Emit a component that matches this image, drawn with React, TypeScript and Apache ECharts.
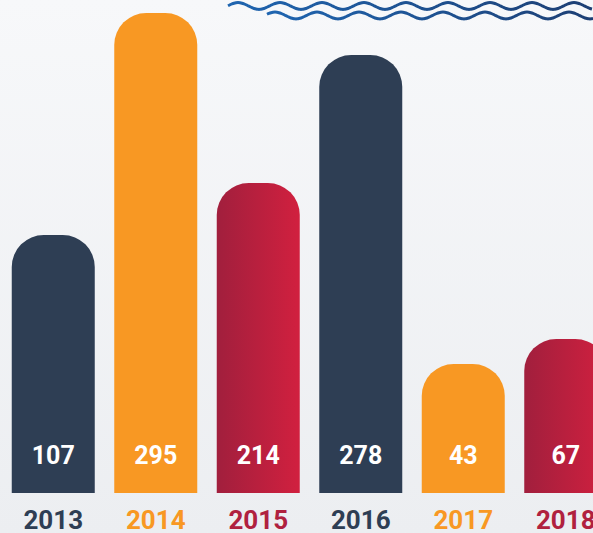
import React, { useEffect, useRef } from "react";
import * as echarts from "echarts";

const years = ["2013", "2014", "2015", "2016", "2017", "2018"];
// displayed bar heights (arbitrary units)
const barHeights = [258, 480, 310, 438, 129, 154];
// value labels shown inside bars
const valueLabels = ["107", "295", "214", "278", "43", "67"];
const kinds = ["navy", "orange", "red", "navy", "orange", "red"];

const NAVY = "#2e3e54";
const ORANGE = "#f89823";
const RED_TEXT = "#b0213f";

function fillFor(kind: string): any {
  if (kind === "navy") return NAVY;
  if (kind === "orange") return ORANGE;
  return new echarts.graphic.LinearGradient(0, 0, 1, 0, [
    { offset: 0, color: "#a11f3d" },
    { offset: 1, color: "#d1203f" },
  ]);
}
function textFor(kind: string): string {
  if (kind === "navy") return NAVY;
  if (kind === "orange") return ORANGE;
  return RED_TEXT;
}

function wave(x0: number, x1: number, cy: number, amp: number, period: number, phase: number): number[][] {
  const pts: number[][] = [];
  for (let x = x0; x <= x1; x += 2) {
    pts.push([x, cy - amp * Math.cos(((x - phase) / period) * 2 * Math.PI)]);
  }
  return pts;
}

export default function App() {
  const ref = useRef<HTMLDivElement>(null);
  useEffect(() => {
    document.body.style.margin = "0";
    const chart = echarts.init(ref.current!, null, { renderer: "svg" });
    const waveColor = new echarts.graphic.LinearGradient(0, 0, 1, 0, [
      { offset: 0, color: "#1f65b0" },
      { offset: 1, color: "#1d3f74" },
    ]);
    chart.setOption({
      animation: false,
      backgroundColor: new echarts.graphic.LinearGradient(0, 0, 0, 1, [
        { offset: 0, color: "#f7f8fa" },
        { offset: 1, color: "#eceef1" },
      ]),
      grid: {
        left: 2,
        top: 0,
        width: 615,
        bottom: 40,
        containLabel: false,
        outerBoundsMode: "none",
      },
      xAxis: {
        type: "category",
        data: years,
        axisLine: { show: false },
        axisTick: { show: false },
        axisLabel: {
          margin: 14,
          fontFamily: "Roboto",
          fontWeight: "bold",
          fontSize: 26,
          interval: 0,
          color: (v: string, i: number) => textFor(kinds[i]),
        },
      },
      yAxis: {
        type: "value",
        min: 0,
        max: 493,
        show: false,
        splitLine: { show: false },
      },
      series: [
        {
          type: "bar",
          barWidth: 83,
          data: barHeights.map((h, i) => ({
            value: h,
            itemStyle: { color: fillFor(kinds[i]), borderRadius: [32, 32, 0, 0] },
            label: {
              show: true,
              position: "insideBottom",
              distance: 25,
              formatter: valueLabels[i],
              color: "#ffffff",
              fontFamily: "Roboto",
              fontWeight: "bold",
              fontSize: 25,
            },
          })),
        },
      ],
      graphic: [
        {
          type: "polyline",
          shape: { points: wave(228, 593, 6, 3.4, 42, 238), smooth: 0.3 },
          style: { stroke: waveColor, lineWidth: 3, fill: null },
          silent: true,
        },
        {
          type: "polyline",
          shape: { points: wave(267, 593, 15.5, 3.4, 42, 275), smooth: 0.3 },
          style: { stroke: waveColor, lineWidth: 3, fill: null },
          silent: true,
        },
      ],
    });
    return () => chart.dispose();
  }, []);
  return <div ref={ref} style={{ width: 593, height: 533 }} />;
}
